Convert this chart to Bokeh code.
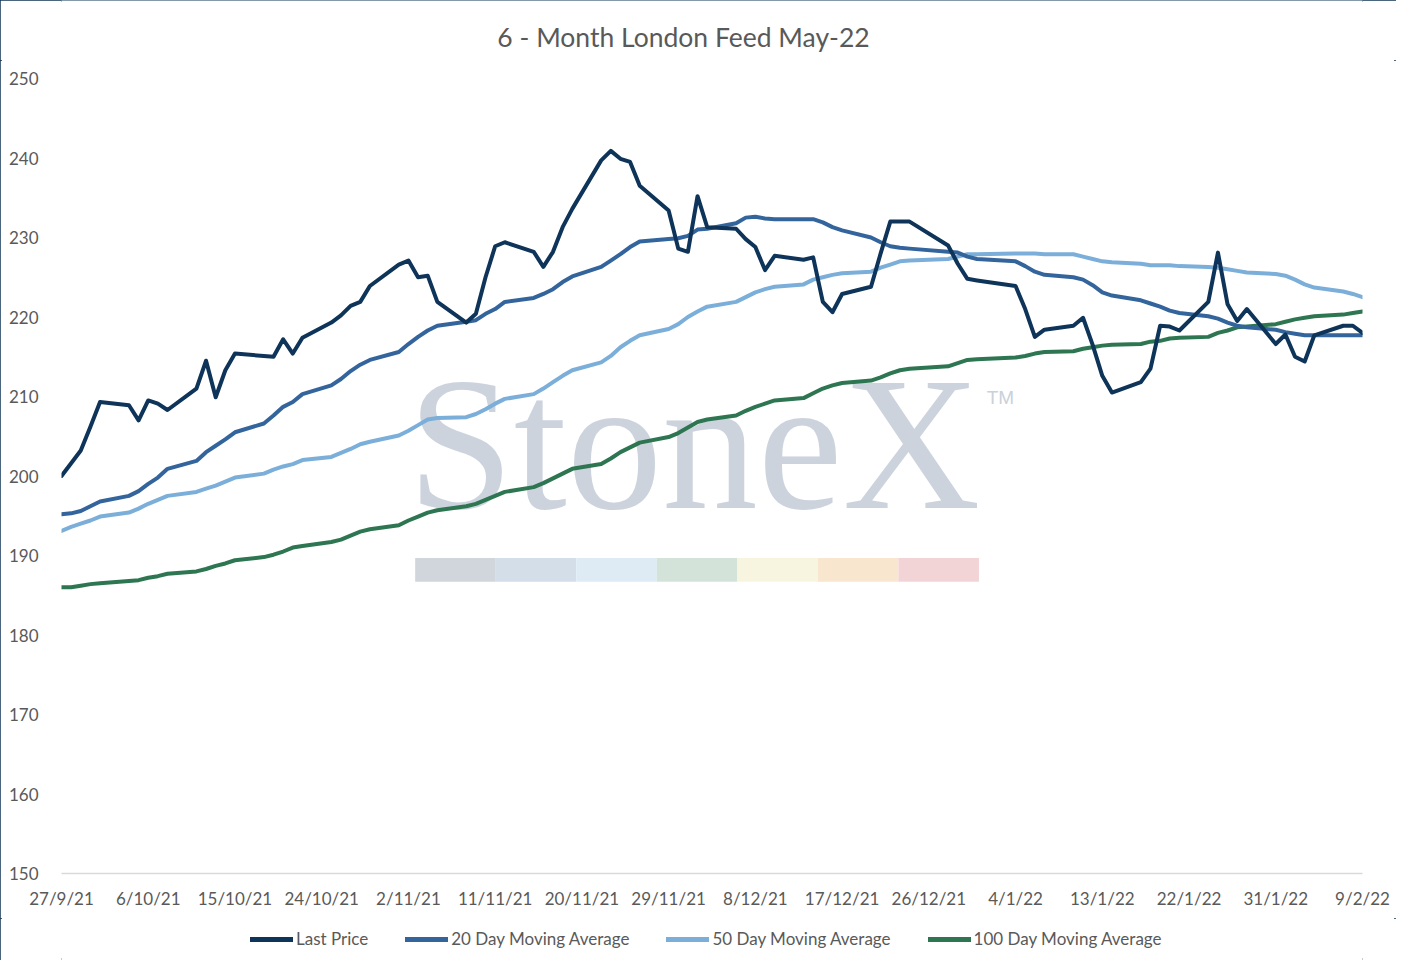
import pandas as pd
from bokeh.plotting import figure
from bokeh.layouts import column
from bokeh.models import Range1d, FixedTicker, Legend, LegendItem
from bokeh.core.properties import value
from bokeh.embed import file_html
from bokeh.resources import INLINE

title_text = "6 - Month London Feed May-22"
series_names = ["Last Price", "20 Day Moving Average", "50 Day Moving Average", "100 Day Moving Average"]

# trading days (weekdays, UK bank holidays removed)
trading_days = pd.bdate_range("2021-09-27", "2022-02-09")
holidays = pd.to_datetime(["2021-12-27", "2022-01-03"])
dates = trading_days.difference(holidays)

last_price = [
    200.0, 201.6, 203.2, 206.2, 209.3,
    208.9, 207.0, 209.5, 209.1, 208.3,
    211.0, 214.5, 209.9, 213.3, 215.4,
    215.1, 215.0, 217.2, 215.4, 217.4,
    219.3, 220.2, 221.4, 221.9, 223.9,
    226.6, 227.1, 225.0, 225.2, 221.9,
    219.3, 220.4, 225.0, 228.9, 229.4,
    228.2, 226.3, 228.2, 231.3, 233.6,
    239.7, 240.9, 239.9, 239.5, 236.5,
    233.4, 228.6, 228.2, 235.2, 231.3,
    231.1, 229.8, 228.8, 225.9, 227.7,
    227.2, 227.5, 221.9, 220.6, 222.9,
    223.8, 228.0, 232.0, 232.0, 232.0,
    229.0, 226.7, 224.8, 224.6,
    223.9, 221.0, 217.5, 218.4,
    218.9, 219.9, 216.5, 212.6, 210.5,
    211.8, 213.5, 218.9, 218.8, 218.3,
    221.9, 228.1, 221.6, 219.5, 221.0,
    216.6, 217.8, 215.0, 214.4, 217.7,
    218.9, 218.9, 218.0,
]
ma20 = [
    195.2, 195.3, 195.6, 196.2, 196.8,
    197.5, 198.1, 199.0, 199.8, 200.9,
    201.9, 203.0, 203.8, 204.6, 205.5,
    206.6, 207.6, 208.7, 209.3, 210.3,
    211.4, 212.2, 213.2, 214.0, 214.6,
    215.6, 216.6, 217.5, 218.3, 218.9,
    219.4, 219.6, 220.4, 221.0, 221.9,
    222.4, 222.9, 223.5, 224.4, 225.1,
    226.3, 227.1, 227.9, 228.8, 229.5,
    229.8, 229.9, 230.2, 231.0, 231.1,
    231.8, 232.5, 232.6, 232.4, 232.3,
    232.3, 232.3, 231.9, 231.3, 230.9,
    230.0, 229.4, 228.9, 228.7, 228.6,
    228.2, 228.1, 227.6, 227.3,
    227.0, 226.4, 225.7, 225.3,
    225.0, 224.7, 224.0, 223.1, 222.7,
    222.1, 221.7, 221.3, 220.8, 220.5,
    220.1, 219.8, 219.3, 218.9, 218.7,
    218.4, 218.1, 217.9, 217.7, 217.7,
    217.7, 217.7, 217.7,
]
ma50 = [
    193.1, 193.6, 194.0, 194.4, 194.9,
    195.4, 195.9, 196.5, 197.0, 197.5,
    198.0, 198.4, 198.8, 199.3, 199.8,
    200.3, 200.8, 201.2, 201.5, 202.0,
    202.4, 202.9, 203.4, 204.0, 204.3,
    205.1, 205.7, 206.4, 207.1, 207.3,
    207.4, 207.8, 208.4, 209.1, 209.7,
    210.3, 211.0, 211.8, 212.6, 213.3,
    214.3, 215.1, 216.2, 217.0, 217.7,
    218.5, 219.1, 220.0, 220.7, 221.3,
    221.9, 222.5, 223.1, 223.5, 223.8,
    224.1, 224.7, 225.0, 225.3, 225.5,
    225.7, 226.2, 226.6, 227.0, 227.1,
    227.3, 227.6, 227.9, 227.9,
    228.0, 228.0, 228.0, 227.9,
    227.9, 227.6, 227.3, 227.0, 226.9,
    226.7, 226.5, 226.5, 226.5, 226.4,
    226.3, 226.2, 226.0, 225.8, 225.6,
    225.4, 225.2, 224.7, 224.1, 223.7,
    223.2, 222.9, 222.5,
]
ma100 = [
    186.0, 186.0, 186.2, 186.4, 186.5,
    186.8, 186.9, 187.2, 187.4, 187.7,
    188.0, 188.3, 188.7, 189.0, 189.4,
    189.8, 190.1, 190.5, 191.0, 191.2,
    191.7, 192.0, 192.5, 193.0, 193.3,
    193.8, 194.4, 194.9, 195.4, 195.7,
    196.2, 196.5, 197.0, 197.5, 198.0,
    198.6, 199.1, 199.7, 200.3, 200.9,
    201.5, 202.2, 203.0, 203.6, 204.2,
    204.9, 205.4, 206.1, 206.8, 207.1,
    207.6, 208.2, 208.7, 209.1, 209.5,
    209.8, 210.4, 211.0, 211.4, 211.7,
    212.0, 212.4, 212.9, 213.3, 213.5,
    213.8, 214.2, 214.6, 214.7,
    214.9, 215.1, 215.4, 215.6,
    215.7, 216.0, 216.2, 216.4, 216.5,
    216.6, 216.9, 217.0, 217.3, 217.4,
    217.5, 218.0, 218.3, 218.7, 218.8,
    219.1, 219.4, 219.7, 219.9, 220.1,
    220.3, 220.5, 220.7,
]

tick_dates = pd.date_range("2021-09-27", "2022-02-09", freq="9D")
tick_labels = ["27/9/21", "6/10/21", "15/10/21", "24/10/21", "2/11/21", "11/11/21",
               "20/11/21", "29/11/21", "8/12/21", "17/12/21", "26/12/21", "4/1/22",
               "13/1/22", "22/1/22", "31/1/22", "9/2/22"]
y_ticks = list(range(150, 251, 10))

colors = ["#0e3459", "#33659c", "#7bafd9", "#2d7651"]
series = [last_price, ma20, ma50, ma100]

FONT = "Lato"
TXT = "#595959"
W = 1396
FRAME_L, FRAME_R = 61, 1362   # chart frame, in page pixels


def bare(fig):
    fig.outline_line_color = None
    fig.background_fill_color = "white"
    fig.border_fill_color = "white"
    fig.min_border = 0
    fig.xgrid.visible = False
    fig.ygrid.visible = False


# ---- title strip (its frame is aligned with the chart frame by the column) ----
head = figure(width=W, height=60, output_backend="svg", toolbar_location=None,
              x_axis_location=None, y_axis_location=None,
              x_range=Range1d(FRAME_L, FRAME_R), y_range=Range1d(0, 60))
bare(head)
head.text(x=[683], y=[24], text=[title_text], text_font=value(FONT), text_font_size="26.5px",
          text_color=TXT, text_align="center", text_baseline="middle")

# ---- main chart ----
p = figure(frame_width=FRAME_R - FRAME_L, frame_height=795, output_backend="svg", toolbar_location=None,
           x_axis_type="datetime",
           x_range=Range1d(start=dates[0], end=dates[-1]),
           y_range=Range1d(start=150, end=250),
           min_border_left=FRAME_L, min_border_right=W - FRAME_R, min_border_top=18, min_border_bottom=45)
p.outline_line_color = None
p.background_fill_color = "white"
p.border_fill_color = "white"
p.xgrid.visible = False
p.ygrid.visible = False

# StoneX watermark (decoration, placed behind the series)
t0 = dates[0]
p.text(x=[t0 + pd.Timedelta(days=35.9)], y=[204.1], text=["StoneX"], text_font=value("Liberation Serif"),
       text_font_size="191px", text_color="#c9d1db", text_alpha=0.95,
       text_baseline="alphabetic", text_align="left")
p.text(x=[t0 + pd.Timedelta(days=96.0)], y=[209.9], text=["TM"], text_font=value("Liberation Sans"),
       text_font_size="19px", text_color="#c9d1db", text_baseline="alphabetic", text_align="left")
band_colors = ["#d1d6dc", "#d4dee9", "#dfebf4", "#d4e3da", "#f7f5df", "#f9e6cf", "#f2d4d6"]
band_w = (95.2 - 36.7) / 7
p.quad(left=[t0 + pd.Timedelta(days=36.7 + i * band_w) for i in range(7)],
       right=[t0 + pd.Timedelta(days=36.7 + (i + 1) * band_w) for i in range(7)],
       bottom=[186.7] * 7, top=[189.7] * 7, fill_color=band_colors, line_color=None)

for name, vals, col in reversed(list(zip(series_names, series, colors))):
    p.line(x=list(dates), y=vals, line_color=col, line_width=4,
           line_cap="round", line_join="round")

xa = p.xaxis[0]
xa.ticker = FixedTicker(ticks=[float(d.value // 10**6) for d in tick_dates])
xa.major_label_overrides = {float(d.value // 10**6): lab for d, lab in zip(tick_dates, tick_labels)}
xa.axis_line_color = "#d9d9d9"
xa.axis_line_width = 1.5
xa.major_tick_line_color = None
xa.minor_tick_line_color = None
xa.major_label_standoff = 8
xa.major_label_text_font = FONT
xa.major_label_text_font_size = "17px"
xa.major_label_text_color = TXT

ya = p.yaxis[0]
ya.ticker = FixedTicker(ticks=y_ticks)
ya.axis_line_color = None
ya.major_tick_line_color = None
ya.minor_tick_line_color = None
ya.major_label_standoff = 17
ya.major_label_text_font = FONT
ya.major_label_text_font_size = "17px"
ya.major_label_text_color = TXT

# ---- legend strip (legend keys only; the series are drawn in the chart above) ----
leg = figure(width=W, height=42, output_backend="svg", toolbar_location=None,
             x_axis_location=None, y_axis_location=None,
             x_range=Range1d(0, 1), y_range=Range1d(0, 1))
bare(leg)
items = []
nan = float("nan")
for name, col in zip(series_names, colors):
    r = leg.line(x=[nan], y=[nan], line_color=col, line_width=5, line_cap="round")
    items.append(LegendItem(label=name, renderers=[r]))
legend = Legend(items=items, orientation="horizontal", location=(250 - FRAME_L, 11),
                glyph_width=43, glyph_height=20, label_standoff=3, spacing=37,
                padding=5, margin=0, border_line_color=None, background_fill_alpha=0,
                label_text_font=FONT, label_text_font_size="17px", label_text_color=TXT)
leg.add_layout(legend)

layout = column(head, p, leg, spacing=0)
layout.styles = {"outline": "2px solid #0d3353", "outline-offset": "-2px", "background": "white"}

open("out.html", "w").write(file_html(layout, INLINE))
